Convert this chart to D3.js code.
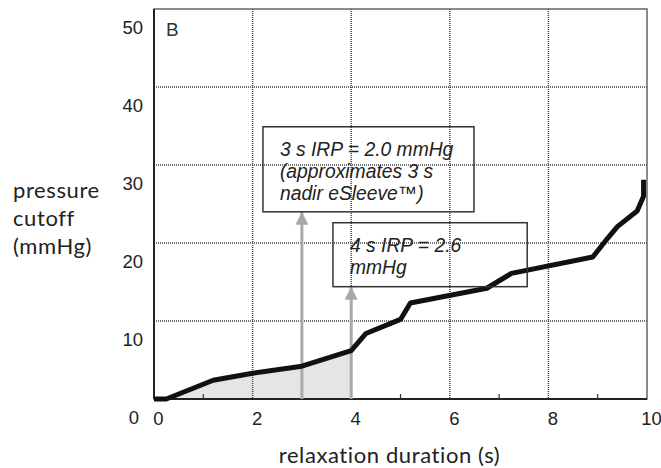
<!DOCTYPE html>
<html>
<head>
<meta charset="utf-8">
<script src="https://cdn.jsdelivr.net/npm/d3@7"></script>
<style>
  body { margin: 0; background: #fff; }
  svg { display: block; }
</style>
</head>
<body>
<div class="chart"></div>
<script>
// Data
const times = [0, 0.25, 1.2, 2.0, 3.0, 4.0, 4.3, 5.0, 5.2, 6.75, 7.25, 8.9, 9.2, 9.4, 9.8, 9.93, 9.93]
const pressures = [0, 0, 2.4, 3.3, 4.2, 6.2, 8.4, 10.2, 12.3, 14.2, 16.1, 18.2, 20.6, 22.1, 24.1, 26.0, 28.1]
const xTicks = [0, 2, 4, 6, 8, 10]
const xMinorTicks = [1, 3, 5, 7, 9]
const yTicks = [0, 10, 20, 30, 40, 50]
const yTitleLines = ["pressure", "cutoff", "(mmHg)"]
const xTitle = "relaxation duration (s)"
const panelLabel = "B"
const shadeUntil = 4

// annotation boxes: data-space corners, text lines, arrow time + tip value
const notes = [
    {x0: 2.21, x1: 6.49, y0: 34.9, y1: 24.0, lines: ["3 s IRP = 2.0 mmHg", "(approximates 3 s", "nadir eSleeve\u2122)"], arrowAt: 3},
    {x0: 3.63, x1: 7.57, y0: 22.6, y1: 14.4, lines: ["4 s IRP = 2.6", "mmHg"], arrowAt: 4}
]

const data = times.map((t, i) => ({t: t, p: pressures[i]}))

const W = 661, H = 468
const margin = {top: 9, right: 14, bottom: 69, left: 154}
const width = W - margin.left - margin.right
const height = H - margin.top - margin.bottom

const xScale = d3.scaleLinear().domain([0, 10]).range([0, width])
const yScale = d3.scaleLinear().domain([0, 50]).range([height, 0])

let svg = d3.select('.chart').append('svg')
    .attr("width", W)
    .attr("height", H)
    .append("g")
    .attr("transform", `translate(${margin.left},${margin.top})`)

// Shaded area under the curve up to 4 s
const area = d3.area()
    .x(d => xScale(d.t))
    .y0(yScale(0))
    .y1(d => yScale(d.p))
svg.append("path")
    .datum(data.filter(d => d.t <= shadeUntil))
    .attr("d", area)
    .attr("fill", "#e5e5e7")

// Gridlines (dotted)
svg.append("g")
    .selectAll("line")
    .data(xTicks.filter(d => d > 0 && d < 10))
    .enter()
    .append("line")
        .attr("x1", d => xScale(d)).attr("x2", d => xScale(d))
        .attr("y1", 0).attr("y2", height)
        .attr("stroke", "#444")
        .attr("stroke-width", 1.5)
        .attr("stroke-dasharray", "1,1")
svg.append("g")
    .selectAll("line")
    .data(yTicks.filter(d => d > 0 && d < 50))
    .enter()
    .append("line")
        .attr("x1", 0).attr("x2", width)
        .attr("y1", d => yScale(d)).attr("y2", d => yScale(d))
        .attr("stroke", "#444")
        .attr("stroke-width", 1.5)
        .attr("stroke-dasharray", "1,1")

// Frame
svg.append("rect")
    .attr("width", width)
    .attr("height", height)
    .attr("fill", "none")
    .attr("stroke", "#666")
    .attr("stroke-width", 1.5)
svg.append("line")
    .attr("x1", 0).attr("x2", 0).attr("y1", 0).attr("y2", height)
    .attr("stroke", "#222").attr("stroke-width", 2)
svg.append("line")
    .attr("x1", 0).attr("x2", width).attr("y1", height).attr("y2", height)
    .attr("stroke", "#222").attr("stroke-width", 2)

// Minor ticks on the x axis (pointing up)
svg.append("g")
    .selectAll("line")
    .data(xMinorTicks)
    .enter()
    .append("line")
        .attr("x1", d => xScale(d)).attr("x2", d => xScale(d))
        .attr("y1", height).attr("y2", height - 5)
        .attr("stroke", "#333")
        .attr("stroke-width", 1.2)

// Axes (labels only)
const xAxis = d3.axisBottom(xScale).tickValues(xTicks).tickSize(0).tickPadding(13)
const yAxis = d3.axisLeft(yScale).tickValues(yTicks).tickSize(0).tickPadding(11)

let gx = svg.append("g")
    .attr("transform", `translate(0, ${height})`)
    .call(xAxis)
gx.select(".domain").remove()
gx.selectAll("text")
    .attr("dx", 4)
    .style("font-family", "'Liberation Sans', Arial, sans-serif")
    .style("font-size", "18.5px")
    .attr("fill", "#222")

let gy = svg.append("g").call(yAxis)
gy.select(".domain").remove()
gy.selectAll("text")
    .attr("dy", "1.3em")
    .attr("dx", d => d === 0 ? -4 : 0)
    .style("font-family", "'Liberation Sans', Arial, sans-serif")
    .style("font-size", "18.5px")
    .attr("fill", "#222")

// Arrow marker
svg.append("defs").append("marker")
    .attr("id", "head")
    .attr("markerUnits", "userSpaceOnUse")
    .attr("viewBox", "0 0 12 12")
    .attr("refX", 12).attr("refY", 6)
    .attr("markerWidth", 13).attr("markerHeight", 13)
    .attr("orient", "auto")
    .append("path")
        .attr("d", "M0,0 L12,6 L0,12 Z")
        .attr("fill", "#a9a9a9")

// Arrows from the axis up to the boxes
svg.append("g")
    .selectAll("line")
    .data(notes)
    .enter()
    .append("line")
        .attr("x1", d => xScale(d.arrowAt)).attr("x2", d => xScale(d.arrowAt))
        .attr("y1", height).attr("y2", d => yScale(d.y1))
        .attr("stroke", "#a9a9a9")
        .attr("stroke-width", 3)
        .attr("marker-end", "url(#head)")

// Curve
const line = d3.line()
    .x(d => xScale(d.t))
    .y(d => yScale(d.p))
svg.append("path")
    .datum(data)
    .attr("d", line)
    .attr("fill", "none")
    .attr("stroke", "#111")
    .attr("stroke-width", 5)
    .attr("stroke-linejoin", "round")

// Annotation boxes
let boxes = svg.selectAll(".note")
    .data(notes)
    .enter()
    .append("g")
    .attr("class", "note")
boxes.append("rect")
    .attr("x", d => xScale(d.x0))
    .attr("y", d => yScale(d.y0))
    .attr("width", d => xScale(d.x1) - xScale(d.x0))
    .attr("height", d => yScale(d.y1) - yScale(d.y0))
    .attr("fill", "none")
    .attr("stroke", "#333")
    .attr("stroke-width", 1.5)
boxes.each(function(d) {
    d3.select(this).selectAll("text")
        .data(d.lines)
        .enter()
        .append("text")
            .attr("x", xScale(d.x0) + 17)
            .attr("y", (_, i) => yScale(d.y0) + 29 + i * 22)
            .text(s => s)
            .style("font-family", "'Liberation Sans', Arial, sans-serif")
            .style("font-style", "italic")
            .style("font-size", "19.3px")
            .attr("fill", "#222")
})

// Panel label
svg.append("text")
    .attr("x", 12)
    .attr("y", 27)
    .text(panelLabel)
    .style("font-family", "'Liberation Sans', Arial, sans-serif")
    .style("font-size", "19px")
    .attr("fill", "#333")

// Axis titles
svg.append("text")
    .attr("x", width / 2 - 11)
    .attr("y", height + 64)
    .attr("text-anchor", "middle")
    .text(xTitle)
    .style("font-family", "Lato, 'Open Sans', sans-serif")
    .style("font-size", "22px")
    .style("letter-spacing", "0.6px")
    .attr("fill", "#222")

svg.append("g")
    .selectAll("text")
    .data(yTitleLines)
    .enter()
    .append("text")
        .attr("x", 13 - margin.left)
        .attr("y", (_, i) => 189 + i * 28)
        .text(d => d)
        .style("font-family", "Lato, 'Open Sans', sans-serif")
        .style("font-size", "22px")
        .style("letter-spacing", "0.6px")
        .attr("fill", "#222")
</script>
</body>
</html>
